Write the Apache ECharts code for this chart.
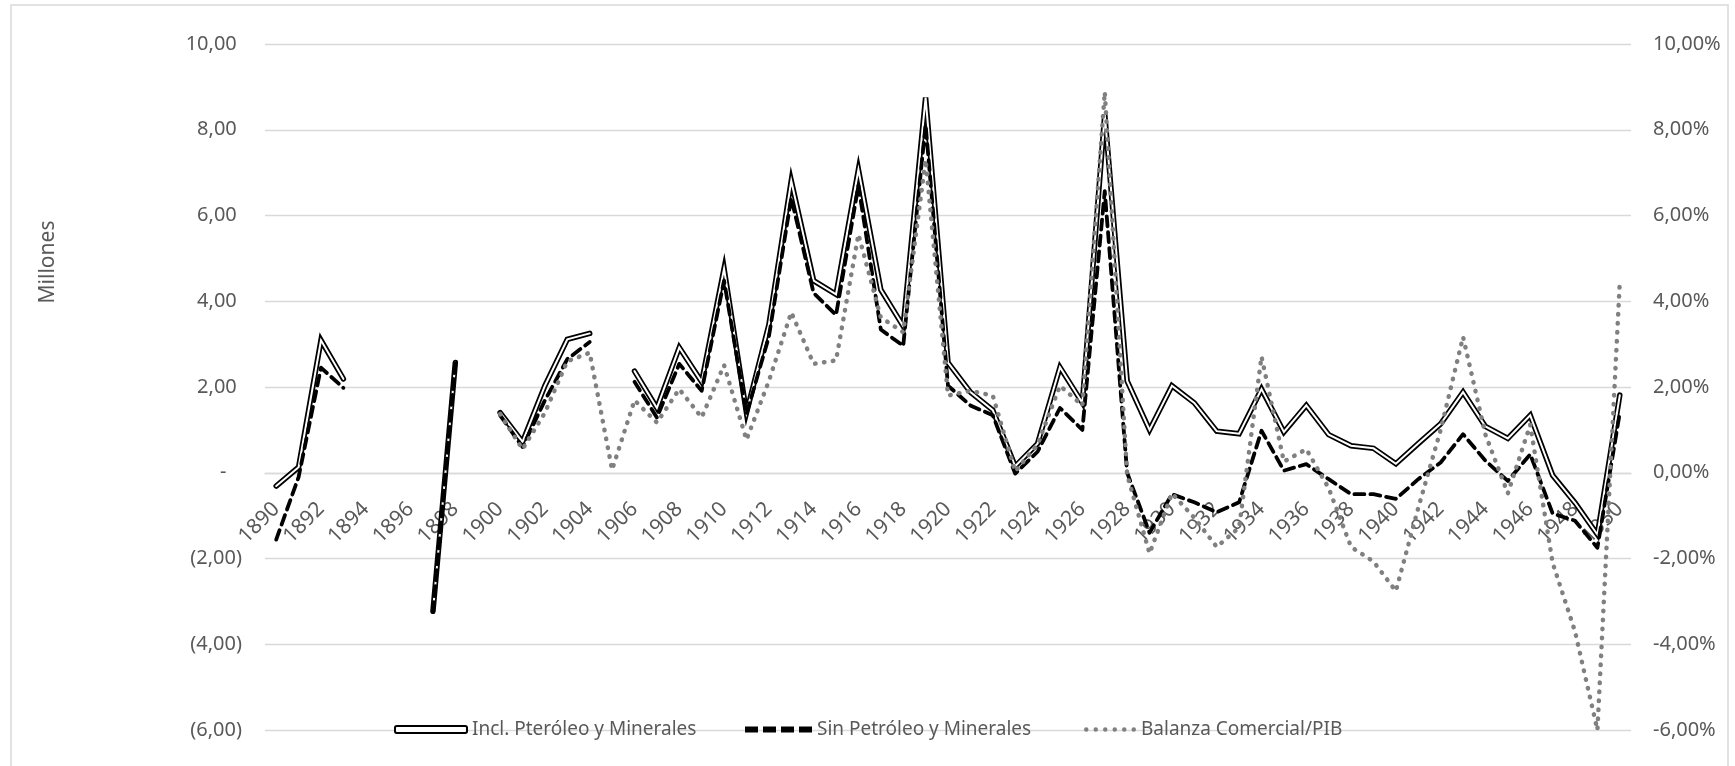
<!DOCTYPE html>
<html>
<head>
<meta charset="utf-8">
<script src="https://cdn.jsdelivr.net/npm/echarts@6/dist/echarts.min.js"></script>
<style>
  html, body { margin: 0; padding: 0; background: #ffffff; }
  #chart { width: 1735px; height: 766px; }
</style>
</head>
<body>
<div id="chart"></div>
<script>
// ---- Data ----
const years = ['1890','1891','1892','1893','1894','1895','1896','1897','1898','1899',
  '1900','1901','1902','1903','1904','1905','1906','1907','1908','1909',
  '1910','1911','1912','1913','1914','1915','1916','1917','1918','1919',
  '1920','1921','1922','1923','1924','1925','1926','1927','1928','1929',
  '1930','1931','1932','1933','1934','1935','1936','1937','1938','1939',
  '1940','1941','1942','1943','1944','1945','1946','1947','1948','1949','1950'];

// Incl. Petróleo y Minerales (Millones)
const inclPetroleo = [-0.31, 0.13, 3.09, 2.19, null, null, null, -3.23, 2.57, null,
  1.40, 0.72, 2.03, 3.11, 3.25, null, 2.37, 1.51, 2.92, 2.12,
  4.76, 1.40, 3.45, 6.81, 4.48, 4.16, 7.07, 4.27, 3.42, 8.75,
  2.57, 1.88, 1.46, 0.15, 0.68, 2.46, 1.63, 8.36, 2.14, 1.00,
  2.03, 1.63, 0.97, 0.91, 1.95, 0.95, 1.57, 0.89, 0.63, 0.57,
  0.21, 0.68, 1.14, 1.88, 1.08, 0.80, 1.34, -0.06, -0.70, -1.44, 1.81];

// Sin Petróleo y Minerales (Millones)
const sinPetroleo = [-1.56, -0.10, 2.45, 1.98, null, null, null, -3.25, 2.57, null,
  1.34, 0.60, 1.69, 2.65, 3.05, null, 2.12, 1.29, 2.54, 1.91,
  4.48, 1.37, 3.17, 6.41, 4.19, 3.68, 6.70, 3.34, 2.96, 8.12,
  2.03, 1.57, 1.34, -0.02, 0.49, 1.51, 1.00, 6.57, 0.00, -1.40,
  -0.50, -0.69, -0.92, -0.69, 0.98, 0.05, 0.20, -0.15, -0.50, -0.50,
  -0.61, -0.15, 0.24, 0.90, 0.28, -0.19, 0.43, -0.95, -1.12, -1.75, 1.40];

// Balanza Comercial/PIB (%)
const balanzaPIB = [null, null, null, null, null, null, null, null, null, null,
  1.37, 0.55, 1.40, 2.60, 2.80, 0.07, 1.69, 1.17, 1.95, 1.29,
  2.51, 0.77, 2.14, 3.74, 2.54, 2.62, 5.56, 3.62, 3.28, 7.30,
  1.80, 1.91, 1.80, 0.03, 0.66, 2.03, 1.57, 8.88, -0.05, -1.88,
  -0.48, -1.05, -1.73, -1.28, 2.71, 0.26, 0.55, -0.36, -1.73, -2.07,
  -2.76, -0.82, 1.00, 3.17, 0.89, -0.48, 1.12, -2.10, -3.70, -6.00, 4.45];

const leftTicks = { min: -6, max: 10, interval: 2 };
const rightTicks = { min: -6, max: 10, interval: 2 };

const nameIncl = 'Incl. Pteróleo y Minerales';
const nameSin = 'Sin Petróleo y Minerales';
const nameBal = 'Balanza Comercial/PIB';

// ---- Styles ----
const FONT = 'Noto Sans';
const TXT = '#595959';
const GRID = '#d9d9d9';

const GRID_TOP = 44, GRID_BOTTOM = 36, CHART_H = 766;

function fmtNum(v) { return Math.abs(v).toFixed(2).replace('.', ','); }

// legend icon paths
function dashIcon() {
  let p = '';
  for (let i = 0; i < 4; i++) { p += 'M' + (i * 18) + ',0h13v6h-13z'; }
  return 'path://' + p;
}
function dotIcon() {
  let p = '';
  const r = 2.25;
  for (let i = 0; i < 6; i++) {
    const x0 = i * 9.5;
    p += 'M' + x0 + ',' + r + 'a' + r + ',' + r + ' 0 1,0 ' + (2 * r) + ',0a' + r + ',' + r + ' 0 1,0 ' + (-2 * r) + ',0z';
  }
  return 'path://' + p;
}

const chart = echarts.init(document.getElementById('chart'), null, { renderer: 'canvas' });

// offset that puts the category axis on the zero line (fallback if onZero is ignored)
const plotH = CHART_H - GRID_TOP - GRID_BOTTOM;
const zeroFromBottom = plotH * (0 - leftTicks.min) / (leftTicks.max - leftTicks.min);

chart.setOption({
  animation: false,
  backgroundColor: '#ffffff',
  textStyle: { fontFamily: FONT },
  graphic: [
    {
      type: 'rect', silent: true, z: -10,
      shape: { x: 11, y: 5, width: 1717, height: 800 },
      style: { fill: 'none', stroke: GRID, lineWidth: 1.5 }
    },
    {
      type: 'text', silent: true,
      x: 48, y: 262, rotation: Math.PI / 2,
      style: {
        text: 'Millones', fill: TXT, font: '21px "' + FONT + '"',
        align: 'center', verticalAlign: 'middle'
      }
    }
  ],
  grid: { left: 265, right: 104, top: GRID_TOP, bottom: GRID_BOTTOM, containLabel: false, outerBoundsMode: 'none' },
  legend: [
    {
      left: 394, top: 720, padding: 0, itemWidth: 72, itemHeight: 7,
      textStyle: { color: TXT, fontSize: 19, fontFamily: FONT },
      data: [{ name: nameIncl, icon: 'roundRect',
               itemStyle: { color: '#ffffff', borderColor: '#000000', borderWidth: 2 } }]
    },
    {
      left: 745, top: 720, padding: 0, itemWidth: 67, itemHeight: 6,
      textStyle: { color: TXT, fontSize: 19, fontFamily: FONT },
      data: [{ name: nameSin, icon: dashIcon(),
               itemStyle: { color: '#000000', borderWidth: 0 } }]
    },
    {
      left: 1084, top: 720, padding: 0, itemWidth: 52, itemHeight: 4.5,
      textStyle: { color: TXT, fontSize: 19, fontFamily: FONT },
      data: [{ name: nameBal, icon: dotIcon(),
               itemStyle: { color: '#808080', borderWidth: 0 } }]
    }
  ],
  xAxis: {
    type: 'category',
    data: years,
    boundaryGap: true,
    offset: -zeroFromBottom,
    axisLine: { show: true, onZero: true, onZeroAxisIndex: 0, lineStyle: { color: GRID, width: 1.3 } },
    axisTick: { show: false },
    axisLabel: {
      interval: 1, rotate: 45, margin: 33,
      color: TXT, fontSize: 21, fontFamily: FONT
    },
    splitLine: { show: false }
  },
  yAxis: [
    {
      type: 'value',
      min: leftTicks.min, max: leftTicks.max, interval: leftTicks.interval,
      axisLine: { show: false }, axisTick: { show: false },
      splitLine: { show: true, lineStyle: { color: GRID, width: 1.3 } },
      axisLabel: {
        margin: 23, color: TXT, fontSize: 20, fontFamily: FONT,
        formatter: function (v) {
          if (Math.abs(v) < 1e-9) return '-   ';
          if (v < 0) return '(' + fmtNum(v) + ')';
          return fmtNum(v) + ' ';
        }
      }
    },
    {
      type: 'value', position: 'right',
      min: rightTicks.min, max: rightTicks.max, interval: rightTicks.interval,
      axisLine: { show: false }, axisTick: { show: false },
      splitLine: { show: false },
      axisLabel: {
        margin: 22, color: TXT, fontSize: 20, fontFamily: FONT,
        formatter: function (v) {
          return (v < 0 ? '-' : '') + fmtNum(v) + '%';
        }
      }
    }
  ],
  series: [
    {
      name: nameIncl, type: 'line', yAxisIndex: 0, data: inclPetroleo,
      symbol: 'none', connectNulls: false, z: 2,
      lineStyle: { color: '#000000', width: 5.5, join: 'miter', cap: 'round' },
      itemStyle: { color: '#000000' }
    },
    {
      name: nameIncl, type: 'line', yAxisIndex: 0, data: inclPetroleo,
      symbol: 'none', connectNulls: false, z: 3,
      lineStyle: { color: '#ffffff', width: 2, join: 'miter', cap: 'round' },
      itemStyle: { color: '#ffffff' }
    },
    {
      name: nameSin, type: 'line', yAxisIndex: 0, data: sinPetroleo,
      symbol: 'none', connectNulls: false, z: 4,
      lineStyle: { color: '#000000', width: 3.8, type: [10, 6], join: 'round', cap: 'round' },
      itemStyle: { color: '#000000' }
    },
    {
      name: nameBal, type: 'line', yAxisIndex: 1, data: balanzaPIB,
      symbol: 'none', connectNulls: false, z: 5,
      lineStyle: { color: '#808080', width: 4.5, type: [0.5, 8.5], cap: 'round', join: 'round' },
      itemStyle: { color: '#808080' }
    }
  ]
});
</script>
</body>
</html>
